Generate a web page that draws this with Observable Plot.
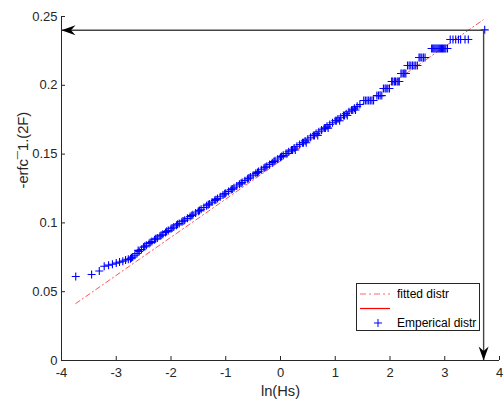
<!DOCTYPE html>
<html><head><meta charset="utf-8">
<script src="https://cdn.jsdelivr.net/npm/d3@7"></script>
<script src="https://cdn.jsdelivr.net/npm/@observablehq/plot@0.6"></script>
<style>body{margin:0;background:#fff;} svg{display:block;}</style>
</head><body><div id="chart"></div>
<script>
// Empirical distribution: ln(Hs) vs -erfc^-1(2F)
const lnHs = [
 -3.74,-3.45,-3.31,-3.22,-3.14,-3.07,-3.00,-2.94,-2.88,-2.83,-2.78,-2.74,-2.70,-2.66,-2.62,-2.58,
 -2.54,-2.50,-2.45,-2.40,-2.35,-2.30,-2.25,-2.20,-2.15,-2.10,-2.05,-2.00,-1.95,-1.90,-1.85,-1.80,
 -1.75,-1.70,-1.65,-1.60,-1.55,-1.50,-1.45,-1.40,-1.35,-1.30,-1.25,-1.20,-1.15,-1.10,-1.05,-1.00,
 -0.95,-0.90,-0.85,-0.80,-0.75,-0.70,-0.65,-0.60,-0.55,-0.50,-0.45,-0.40,-0.35,-0.30,-0.25,-0.20,
 -0.15,-0.10,-0.05,0.00,0.05,0.10,0.15,0.20,0.25,0.30,0.35,0.40,0.45,0.50,0.55,0.60,
 0.65,0.70,0.75,0.80,0.85,0.90,0.95,1.00,1.05,1.10,1.15,1.20,1.25,1.30,1.35,1.40,1.45,
 1.52,1.58,1.64,1.70,1.76,1.82,1.88,1.93,1.99,2.03,2.08,2.13,2.17,2.20,2.25,2.29,
 2.32,2.38,2.44,2.50,2.53,2.58,2.64,2.76,2.80,2.84,2.88,2.92,2.96,3.00,3.05,
 3.10,3.20,3.29,3.43,3.73,
 -2.72,-2.60,-2.48,-2.38,-2.28,-2.18,-2.08,-1.98,-1.88,-1.78,-1.62,-1.48,-1.32,-1.18,-1.02,-0.88,
 -0.72,-0.58,-0.42,-0.28,-0.12,0.02,0.12,0.22,0.27,0.42,0.47,0.62,0.68,0.82,0.87,1.02,1.08,
 1.17,1.22,1.32,1.37,1.55,1.61,1.67,1.79,1.85,1.91,1.96,2.05,2.10,2.15,2.22,2.27,2.35,2.41,2.47,
 2.55,2.61,2.78,2.82,2.86,2.90,2.94,2.98,3.02,3.15,3.25,3.37
];
const erfcInv = [
 0.0610,0.0625,0.0650,0.0685,0.0693,0.0700,0.0708,0.0715,0.0722,0.0730,0.0735,0.0740,0.0752,0.0765,0.0778,0.0792,
 0.0806,0.0824,0.0838,0.0851,0.0864,0.0877,0.0890,0.0904,0.0917,0.0930,0.0944,0.0957,0.0970,0.0983,0.0996,0.1008,
 0.1020,0.1033,0.1046,0.1059,0.1072,0.1085,0.1099,0.1112,0.1125,0.1138,0.1151,0.1164,0.1177,0.1190,0.1203,0.1216,
 0.1229,0.1242,0.1255,0.1268,0.1281,0.1294,0.1307,0.1320,0.1334,0.1347,0.1360,0.1373,0.1386,0.1399,0.1412,0.1425,
 0.1438,0.1451,0.1464,0.1478,0.1491,0.1504,0.1517,0.1530,0.1544,0.1557,0.1570,0.1583,0.1596,0.1610,0.1623,0.1636,
 0.1649,0.1662,0.1676,0.1689,0.1702,0.1715,0.1728,0.1742,0.1755,0.1768,0.1781,0.1794,0.1808,0.1821,0.1834,0.1847,0.1860,
 0.1890,0.1890,0.1890,0.1890,0.1925,0.1925,0.1977,0.1977,0.1977,0.2028,0.2028,0.2028,0.2028,0.2086,0.2086,0.2086,
 0.2144,0.2144,0.2144,0.2144,0.2202,0.2202,0.2202,0.2267,0.2267,0.2267,0.2267,0.2267,0.2267,0.2267,0.2267,
 0.2333,0.2333,0.2333,0.2333,0.2403,
 0.0746,0.0800,0.0830,0.0857,0.0884,0.0910,0.0937,0.0963,0.0990,0.1014,0.1054,0.1090,0.1132,0.1169,0.1211,0.1247,
 0.1289,0.1325,0.1367,0.1404,0.1446,0.1483,0.1504,0.1530,0.1530,0.1583,0.1583,0.1636,0.1636,0.1689,0.1689,0.1742,0.1742,
 0.1781,0.1781,0.1821,0.1821,0.1890,0.1890,0.1890,0.1925,0.1925,0.1977,0.1977,0.2028,0.2028,0.2028,0.2086,0.2086,0.2144,0.2144,0.2144,
 0.2202,0.2202,0.2267,0.2267,0.2267,0.2267,0.2267,0.2267,0.2267,0.2333,0.2333,0.2333
];
// Fitted distribution line (endpoints)
const fitX = [-3.74, 3.70];
const fitY = [0.0414, 0.2475];
// Axes
const xTicks = [-4,-3,-2,-1,0,1,2,3,4];
const yTicks = [0,0.05,0.1,0.15,0.2,0.25];
const yTickLabels = ["0","0.05","0.1","0.15","0.2","0.25"];
const xLabel = "ln(Hs)";
const yLabel = "-erfc\u00AF1.(2F)";
// Annotation arrows
const arrowLines = [
  {x1: 3.71, y1: 0.24, x2: -4, y2: 0.24},
  {x1: 3.71, y1: 0.24, x2: 3.71, y2: 0}
];
const arrowTips = [
  {x: -4, y: 0.24, rot: 90},
  {x: 3.71, y: 0, rot: 0}
];
const legendLabels = ["fitted distr", "", "Emperical distr"];

const W = 504, H = 401, mL = 61, mR = 5, mT = 16, mB = 41;
const ink = "#262626";
const emp = lnHs.map((x, i) => ({x, y: erfcInv[i]}));
const fit = fitX.map((x, i) => ({x, y: fitY[i]}));
const arrowHead = {draw(ctx) { ctx.moveTo(0, 0); ctx.lineTo(-5, -14); ctx.lineTo(0, -9.5); ctx.lineTo(5, -14); ctx.closePath(); }};
const plusMark = {draw(ctx) { ctx.moveTo(-4, 0); ctx.lineTo(4, 0); ctx.moveTo(0, -4); ctx.lineTo(0, 4); }};

const plot = Plot.plot({
  width: W, height: H, marginLeft: mL, marginRight: mR, marginTop: mT, marginBottom: mB,
  style: {fontFamily: "'Liberation Sans', Arial, sans-serif", fontSize: "13px", color: ink, background: "white", overflow: "visible"},
  x: {domain: [-4, 4]},
  y: {domain: [0, 0.25]},
  marks: [
    Plot.line(fit, {x: "x", y: "y", stroke: "red", strokeWidth: 0.8, strokeOpacity: 0.85, strokeDasharray: "5,3,1.2,3"}),
    Plot.dot(emp, {x: "x", y: "y", symbol: plusMark, fill: "none", stroke: "blue", strokeWidth: 1.1}),
    Plot.link(arrowLines, {x1: "x1", y1: "y1", x2: "x2", y2: "y2", stroke: "#444", strokeWidth: 1.4}),
    Plot.dot(arrowTips, {x: "x", y: "y", rotate: "rot", symbol: arrowHead, fill: "black", stroke: "none"}),
    Plot.ruleX([-4], {stroke: ink}),
    Plot.ruleY([0], {stroke: ink}),
    Plot.tickX(xTicks, {x: d => d, insetTop: H - mT - mB - 4, stroke: ink}),
    Plot.tickY(yTicks, {y: d => d, insetRight: W - mL - mR - 4, stroke: ink}),
    Plot.axisX({ticks: xTicks, tickSize: 0, tickPadding: 7, label: null, tickFormat: d => String(d), fontSize: 13}),
    Plot.axisY({ticks: yTicks, tickSize: 0, tickPadding: 4, label: null, tickFormat: (d) => yTickLabels[yTicks.indexOf(d)], fontSize: 13}),
    Plot.text([xLabel], {text: d => d, frameAnchor: "bottom", dy: 31, lineAnchor: "middle", fontSize: 14.7, fill: ink}),
    Plot.text([yLabel], {text: d => d, frameAnchor: "left", dx: -38, rotate: -90, fontSize: 14.7, fill: ink})
  ]
});

// Legend box (inside the axes, bottom-right)
const svg = d3.select(plot);
const lg = svg.append("g").attr("font-family", "'Liberation Sans', Arial, sans-serif").attr("font-size", 12).attr("fill", "black").attr("text-anchor", "start");
lg.append("rect").attr("x", 356.5).attr("y", 283.5).attr("width", 123).attr("height", 47).attr("fill", "white").attr("stroke", ink).attr("stroke-width", 1);
const rows = [294, 308.5, 323];
lg.append("line").attr("x1", 360).attr("x2", 390).attr("y1", rows[0]).attr("y2", rows[0]).attr("stroke", "#ff9a9a").attr("stroke-width", 1.3).attr("stroke-dasharray", "6,3,2,3");
lg.append("line").attr("x1", 360).attr("x2", 390).attr("y1", rows[1]).attr("y2", rows[1]).attr("stroke", "red").attr("stroke-width", 1.2);
lg.append("path").attr("d", `M374,${rows[2]}h8M378,${rows[2]-4}v8`).attr("stroke", "blue").attr("stroke-width", 1).attr("fill", "none");
legendLabels.forEach((t, i) => {
  if (t) lg.append("text").attr("x", 397).attr("y", rows[i]).attr("dy", "0.35em").attr("text-anchor", "start").text(t);
});
document.getElementById("chart").appendChild(plot);
</script>
</body></html>
